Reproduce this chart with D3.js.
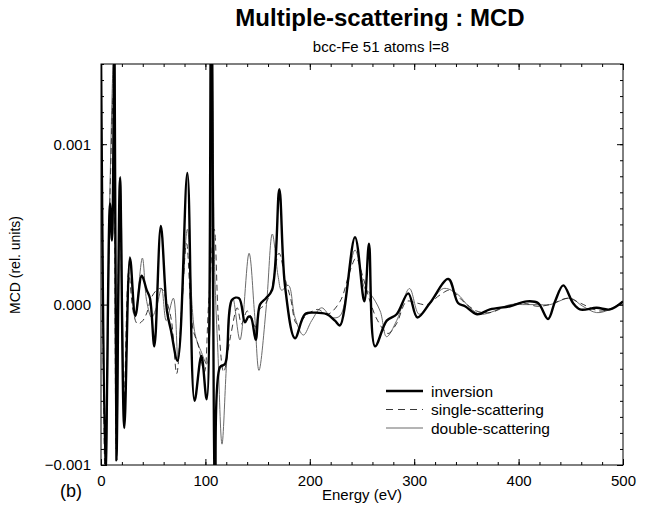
<!DOCTYPE html>
<html><head><meta charset="utf-8">
<script src="https://cdn.jsdelivr.net/npm/d3@7"></script>
<style>
body{margin:0;background:#fff;}
svg{font-family:"Liberation Sans",Arial,Helvetica,sans-serif;}
</style></head>
<body><svg id="chart" width="652" height="506"></svg>
<script>
// values in units of 1e-3 (rel. units)
const UNIT = 1e-3;
const invE = [0,4.3,8.6,10.5,12.9,14.8,18.2,22.3,27.8,32.9,39.0,43.8,46.9,51.1,57.3,63.2,67.0,73.3,82.7,89.6,96.1,101.2,105.6,109.6,114,118.8,125.5,132.2,137.9,141.3,143.7,148.2,152.3,158,163.8,170.8,176.2,185.8,195.4,205,216.2,224.1,228.9,243.3,252.2,256.7,262.5,273.7,283.2,294.3,303,315.1,332.7,342,348.7,360.2,372.6,391.8,407.8,418.6,428.2,434.9,442.8,452.1,458.8,474.8,487.5,500];
const invV = [1.6,-1.05,0.63,0.4,1.7,-0.97,0.79,-0.77,0.29,-0.07,0.18,0.09,0.04,-0.26,0.49,-0.04,-0.16,-0.35,0.82,-0.6,-0.32,-0.59,2.0,-1.3,-0.39,-0.37,0.03,0.04,-0.11,-0.075,-0.08,-0.22,0.0,0.04,0.09,0.72,0.12,-0.21,-0.06,-0.05,-0.06,-0.1,-0.13,0.42,0.02,0.38,-0.26,-0.1,-0.06,0.07,-0.08,0.01,0.16,0.01,-0.01,-0.06,-0.03,-0.01,0.02,0.01,-0.09,0.02,0.12,0.01,-0.03,-0.02,-0.03,0.02];

const singleE = [0,4,8,11.8,14.5,18,22,26.5,31,35,40,44,48,53.3,58,63,67.5,72.5,77.5,82,88,93,99,103,108.5,112.5,117.5,124,130.5,134.6,140,144,148,152,157,163,170.5,176.8,181.6,187.7,198,207.6,217,229,238.5,244.3,251,257.7,265,274.9,283,292.8,302.4,312,324.7,334.3,347,359.8,372.6,388.9,404,417.6,430,447.3,458.8,478,490,500];
const singleV = [1.6,-1.1,0.5,1.3,-0.9,0.7,-0.6,0.2,-0.05,-0.12,-0.1,-0.05,0.04,0.09,0.1,0.02,-0.1,-0.43,0.0,0.38,-0.15,-0.25,-0.42,0.0,0.47,-0.1,-0.42,-0.2,-0.02,-0.12,-0.04,-0.08,-0.14,-0.03,0.0,0.09,0.32,0.15,0.04,-0.12,-0.06,-0.03,-0.06,0.02,0.21,0.29,0.17,0.02,-0.1,-0.18,-0.12,0.02,0.01,0.0,0.06,0.09,0.02,-0.04,-0.05,-0.01,0.01,-0.01,0.0,0.04,0.01,-0.04,-0.02,0.02];

const doubleE = [0,4.6,8.5,12.4,15.2,18.6,22.6,27.6,32.5,39.6,43.8,48.5,53,58,62.5,69.3,73.8,78,82.8,90,96.4,101.2,104,106.3,109,112,115.9,120,123.6,126.4,133.1,141.8,147,151.3,158.5,164.1,169.8,173,179.5,185.8,193.8,201.8,211.3,221,229,243.3,252.7,257.7,267.4,273.5,283.2,295.5,304.7,315.1,327.9,340.6,353.4,363,372.6,391.8,404,417.6,430,449.3,461.4,474.8,487.5,500];
const doubleV = [1.6,-1.1,0.7,1.6,-0.9,0.8,-0.7,0.3,-0.08,0.29,0.02,-0.08,-0.02,0.1,-0.1,0.04,-0.35,0.05,0.47,-0.18,-0.3,-0.37,-0.2,1.8,0.2,-0.3,-0.87,-0.4,-0.05,0.04,-0.22,0.32,-0.05,-0.41,0.0,0.44,0.17,0.09,0.12,-0.08,-0.19,-0.1,-0.02,-0.08,-0.07,0.34,0.1,0.07,-0.04,-0.2,-0.1,0.1,-0.06,0.01,0.1,0.07,-0.02,-0.06,-0.05,0.0,0.0,0.0,0.0,0.04,-0.01,-0.05,-0.03,0.02];

const xMajor = [0,100,200,300,400,500];
const xMinor = d3.range(0,501,20);
const yMajor = [-0.001,0,0.001];
const yMinor = d3.range(-10,16,1).map(d=>d*1e-4);
const seriesNames = ["inversion","single-scattering","double-scattering"];

const svg = d3.select("#chart");
const L=101,R=623,T=64,B=465;
const x = d3.scaleLinear().domain([0,500]).range([L,R]);
const y = d3.scaleLinear().domain([-0.001,0.0015]).range([B,T]);

svg.append("defs").append("clipPath").attr("id","clip")
  .append("rect").attr("x",L).attr("y",T).attr("width",R-L).attr("height",B-T);

function axis(gen, tr, vals, size, labels){
  const g = svg.append("g").attr("transform",tr)
    .call(gen.tickValues(vals).tickSize(size).tickPadding(8)
      .tickFormat(labels? labels : ""));
  g.select(".domain").remove();
  g.selectAll("line").attr("stroke","#000").attr("stroke-width",1);
  g.selectAll("text").attr("fill","#000").attr("font-size","15px")
    .attr("font-family",'"Liberation Sans",Arial,sans-serif');
  return g;
}
// bottom
axis(d3.axisBottom(x),`translate(0,${B})`,xMinor,-3);
axis(d3.axisBottom(x),`translate(0,${B})`,xMajor,-6,d=>d3.format("d")(d)).selectAll("text").attr("dy","0.85em");
// top
axis(d3.axisTop(x),`translate(0,${T})`,xMinor,-3);
axis(d3.axisTop(x),`translate(0,${T})`,xMajor,-6);
// left
axis(d3.axisLeft(y),`translate(${L},0)`,yMinor,-3);
axis(d3.axisLeft(y),`translate(${L},0)`,yMajor,-6,d3.format(".3f")).selectAll("text").attr("dx","-2");
// right
axis(d3.axisRight(y),`translate(${R},0)`,yMinor,-3);
axis(d3.axisRight(y),`translate(${R},0)`,yMajor,-6);

svg.append("rect").attr("x",L).attr("y",T).attr("width",R-L).attr("height",B-T)
  .attr("fill","none").attr("stroke","#000").attr("stroke-width",1);

const line = d3.line().x(d=>x(d[0])).y(d=>y(d[1]*UNIT)).curve(d3.curveCatmullRom.alpha(0.5));
const plot = svg.append("g").attr("clip-path","url(#clip)");
const styles = [
  {E:doubleE,V:doubleV,stroke:"#6a6a6a",w:1,dash:null},
  {E:singleE,V:singleV,stroke:"#222",w:0.9,dash:"6,4"},
  {E:invE,V:invV,stroke:"#000",w:2.4,dash:null}
];
styles.forEach(s=>{
  plot.append("path").datum(s.E.map((e,i)=>[e,s.V[i]]))
    .attr("d",line).attr("fill","none").attr("stroke",s.stroke)
    .attr("stroke-width",s.w).attr("stroke-dasharray",s.dash)
    .attr("stroke-linejoin","round");
});

// legend
const leg = [
  {name:seriesNames[0],stroke:"#000",w:2.4,dash:null},
  {name:seriesNames[1],stroke:"#222",w:0.9,dash:"7,5"},
  {name:seriesNames[2],stroke:"#6a6a6a",w:1,dash:null}
];
leg.forEach((l,i)=>{
  const yy = 391 + i*18.5;
  svg.append("line").attr("x1",386).attr("x2",423).attr("y1",yy).attr("y2",yy)
    .attr("stroke",l.stroke).attr("stroke-width",l.w).attr("stroke-dasharray",l.dash);
  svg.append("text").attr("x",431).attr("y",yy+5.5).attr("font-size","15.5px").text(l.name);
});

// titles
svg.append("text").attr("x",380).attr("y",26).attr("text-anchor","middle")
  .attr("font-size","24px").attr("font-weight","bold").text("Multiple-scattering : MCD");
svg.append("text").attr("x",381).attr("y",52).attr("text-anchor","middle")
  .attr("font-size","15px").text("bcc-Fe 51 atoms l=8");
svg.append("text").attr("x",362).attr("y",500).attr("text-anchor","middle")
  .attr("font-size","15px").text("Energy (eV)");
svg.append("text").attr("transform","translate(20,265) rotate(-90)").attr("text-anchor","middle")
  .attr("font-size","14px").text("MCD (rel. units)");
svg.append("text").attr("x",60).attr("y",497).attr("font-size","18px").text("(b)");
</script></body></html>
